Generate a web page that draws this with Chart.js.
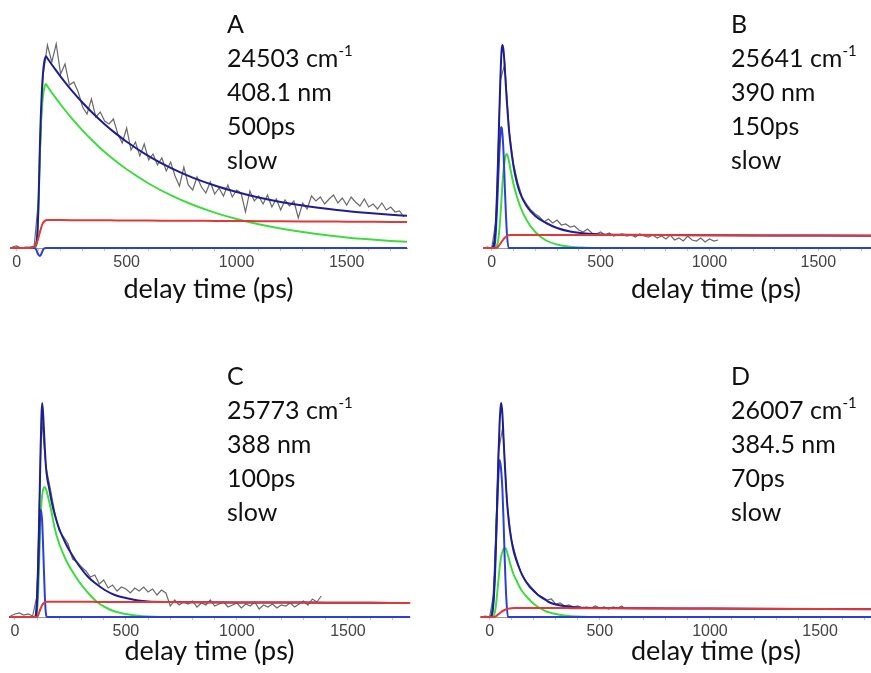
<!DOCTYPE html>
<html>
<head>
<meta charset="utf-8">
<script src="https://cdn.jsdelivr.net/npm/chart.js@4.4.0/dist/chart.umd.min.js"></script>
<style>
  html, body { margin: 0; padding: 0; background: #fff; }
  body { width: 871px; height: 673px; position: relative; overflow: hidden; }
  canvas.panel { position: absolute; }
  .note { position: absolute; font-family: Lato, "Open Sans", sans-serif; font-size: 25px; line-height: 34px; color: #111; white-space: nowrap; }
  .note sup { font-size: 15px; line-height: 0; vertical-align: 0; position: relative; top: -11px; }
</style>
</head>
<body>
<canvas id="pA" class="panel" width="435" height="310" style="left:0;top:0"></canvas>
<canvas id="pB" class="panel" width="520" height="310" style="left:435px;top:0"></canvas>
<canvas id="pC" class="panel" width="435" height="304" style="left:0;top:369px"></canvas>
<canvas id="pD" class="panel" width="520" height="304" style="left:435px;top:369px"></canvas>

<div class="note" style="left:227px;top:6px">A<br>24503 cm<sup>-1</sup><br>408.1 nm<br>500ps<br>slow</div>
<div class="note" style="left:731px;top:6px">B<br>25641 cm<sup>-1</sup><br>390 nm<br>150ps<br>slow</div>
<div class="note" style="left:227px;top:358px">C<br>25773 cm<sup>-1</sup><br>388 nm<br>100ps<br>slow</div>
<div class="note" style="left:731px;top:358px">D<br>26007 cm<sup>-1</sup><br>384.5 nm<br>70ps<br>slow</div>

<script>
// ---- axis ticks (ps) ----
const tickMarks  = [0, 100, 200, 300, 400, 500, 600, 700, 800, 900, 1000, 1100, 1200, 1300, 1400, 1500, 1600, 1700, 1800, 1900, 2000];
const tickLabels = [0, 500, 1000, 1500];

// ---- A: 24503 cm-1, 408.1 nm ----
const fitTimeA = [-30, 60, 80, 90, 95, 100, 106, 110, 115, 120, 125, 133, 140, 150, 175, 200, 250, 300, 350, 400, 450, 500, 600, 700, 800, 900, 1000, 1100, 1200, 1300, 1400, 1500, 1600, 1700, 1774];
const totalA = [0, 0, 1, 5, 17, 49, 103, 132, 158, 175, 185, 191.8, 189.7, 186.5, 178.8, 171.4, 157.6, 145.2, 134, 123.8, 114.6, 106.3, 91.9, 80.1, 70.4, 62.5, 56, 50.5, 46.1, 42.5, 39.5, 36.9, 34.9, 33.2, 32.2];
const greenA = [0, 0, 0, 3, 15, 45, 95, 120, 140, 152, 159, 164, 161.7, 158.5, 150.8, 143.5, 129.8, 117.4, 106.3, 96.1, 87, 78.7, 64.5, 52.8, 43.2, 35.4, 29, 23.7, 19.4, 15.9, 13, 10.6, 8.7, 7.1, 6.2];
const redA   = [0, 0, 1, 4, 7, 11, 16, 19, 22.5, 25, 26.5, 27.8, 28, 28, 28, 27.9, 27.8, 27.8, 27.7, 27.7, 27.6, 27.6, 27.4, 27.3, 27.2, 27.1, 27, 26.8, 26.7, 26.6, 26.5, 26.3, 26.2, 26.1, 26];
const blueA  = [0, 0, 0, -2, -5, -7, -8, -7, -4.5, -2, -0.5, 0, 0, 0, 0, 0, 0, 0, 0, 0, 0, 0, 0, 0, 0, 0, 0, 0, 0, 0, 0, 0, 0, 0, 0];
const dataTimeA = [-20, 0, 20, 40, 60, 80, 100, 120, 140, 160, 180, 200, 220, 240, 260, 280, 300, 320, 340, 360, 380, 400, 420, 440, 460, 480, 500, 520, 540, 560, 580, 600, 620, 640, 660, 680, 700, 720, 740, 760, 780, 800, 820, 840, 860, 880, 900, 920, 940, 960, 980, 1000, 1020, 1040, 1060, 1080, 1100, 1120, 1140, 1160, 1180, 1200, 1220, 1240, 1260, 1280, 1300, 1320, 1340, 1360, 1380, 1400, 1420, 1440, 1460, 1480, 1500, 1520, 1540, 1560, 1580, 1600, 1620, 1640, 1660, 1680, 1700, 1720, 1740, 1760];
const dataA = [1, 2, 0, 1, 1, 2, 50, 172, 203, 186, 204, 174, 184, 163, 166, 156, 141, 134, 149, 131, 136, 127, 124, 129, 114, 105, 120, 98, 106, 92, 104, 88, 94, 83, 90, 77, 86, 72, 62, 81, 63, 58, 71, 61, 55, 66, 54, 60, 52, 63, 51, 58, 55, 36, 57, 47, 52, 44, 53, 41, 49, 38, 48, 42, 47, 30, 45, 39, 52, 47, 51, 44, 49, 53, 45, 50, 43, 51, 46, 42, 49, 41, 44, 39, 45, 38, 41, 36, 37, 31];

// ---- B: 25641 cm-1, 390 nm ----
const fitTimeB = [-40, 0, 10, 15, 20, 25, 30, 35, 40, 43, 46, 50, 55, 60, 65, 70, 77, 85, 100, 115, 130, 160, 200, 250, 300, 360, 430, 500, 600, 800, 1000, 1400, 1800, 2100];
const totalB = [0, 0, 4, 12, 30, 58, 95, 135, 170, 188, 199, 203, 196, 180, 162, 145, 124, 106, 82, 66, 55, 42, 32, 25, 20, 16.5, 14.5, 13.6, 13.3, 13, 12.8, 12.5, 12.2, 12];
const greenB = [0, 0, 0, 0, 1, 3, 8, 18, 32, 42, 53, 66, 79, 88, 93, 94, 89, 80, 64, 52, 42, 28, 16, 7.5, 3.5, 1.2, 0.3, 0, 0, 0, 0, 0, 0, 0];
const redB   = [0, 0, 0, 0, 0, 0.5, 1.5, 3, 4.5, 5.5, 6.5, 7.5, 9, 10.2, 11.2, 12, 12.7, 13, 13.1, 13.1, 13.1, 13.1, 13.1, 13.1, 13.1, 13.1, 13, 13, 13, 12.9, 12.8, 12.5, 12.2, 12];
const blueB  = [0, 0, 0, 5, 20, 42, 70, 95, 114, 121, 120, 112, 92, 62, 35, 14, 0, 0, 0, 0, 0, 0, 0, 0, 0, 0, 0, 0, 0, 0, 0, 0, 0, 0];
const dataTimeB = [-40, -20, 0, 20, 40, 60, 80, 100, 120, 140, 160, 180, 200, 220, 240, 260, 280, 300, 320, 340, 360, 380, 400, 420, 440, 460, 480, 500, 520, 540, 560, 580, 600, 620, 640, 660, 680, 700, 720, 740, 760, 780, 800, 820, 840, 860, 880, 900, 920, 940, 960, 980, 1000, 1020, 1040];
const dataB = [0, 1, 0, 28, 168, 184, 118, 84, 65, 51, 44, 38, 34, 31, 26, 29, 25, 28, 23, 24, 21, 22, 18, 16, 19, 15, 14, 16, 13, 15, 12, 13, 14, 12, 13, 11, 14, 12, 11, 13, 10, 12, 9, 13, 8, 10, 7, 12, 8, 7, 10, 6, 9, 7, 8];

// ---- C: 25773 cm-1, 388 nm ----
const fitTimeC = [-25, 60, 90, 95, 100, 105, 110, 116, 120, 123, 128, 135, 140, 145, 155, 165, 180, 200, 230, 255, 290, 330, 370, 405, 450, 500, 555, 600, 700, 800, 1000, 1300, 1600, 1780];
const totalC = [0, 0, 0, 3, 20, 55, 105, 170, 203, 214, 200, 168, 150, 140, 128, 116, 102, 88, 73, 63, 51, 40, 32.5, 27, 22, 19, 16.5, 15.5, 15, 14.8, 14.6, 14.4, 14.2, 14];
const greenC = [0, 0, 0, 0, 5, 25, 60, 100, 115, 122, 128, 130, 128, 124, 115, 105, 88, 73, 57, 47, 35, 24, 15, 10, 5.5, 3, 1.2, 0.5, 0, 0, 0, 0, 0, 0];
const redC   = [0, 0, 0, 0, 0, 2, 5, 8.5, 10.5, 12, 13.5, 14.8, 15.2, 15.3, 15.3, 15.3, 15.3, 15.3, 15.3, 15.2, 15.2, 15.2, 15.1, 15.1, 15.1, 15, 15, 15, 14.9, 14.8, 14.6, 14.4, 14.2, 14];
const blueC  = [0, 0, 0, 2, 15, 45, 80, 107, 103, 95, 65, 20, 3, 0, 0, 0, 0, 0, 0, 0, 0, 0, 0, 0, 0, 0, 0, 0, 0, 0, 0, 0, 0, 0];
const dataTimeC = [-20, 0, 20, 40, 60, 80, 100, 120, 140, 160, 180, 200, 220, 240, 260, 280, 300, 320, 340, 360, 380, 400, 420, 440, 460, 480, 500, 520, 540, 560, 580, 600, 620, 640, 660, 680, 700, 720, 740, 760, 780, 800, 820, 840, 860, 880, 900, 920, 940, 960, 980, 1000, 1020, 1040, 1060, 1080, 1100, 1120, 1140, 1160, 1180, 1200, 1220, 1240, 1260, 1280, 1300, 1320, 1340, 1360, 1380];
const dataC = [1, 3, 4, 2, 3, 1, 22, 200, 150, 128, 104, 86, 80, 73, 58, 55, 50, 46, 40, 42, 33, 37, 29, 32, 26, 30, 28, 24, 29, 26, 30, 25, 28, 22, 27, 24, 11, 17, 12, 15, 13, 16, 10, 14, 12, 17, 11, 13, 15, 10, 12, 14, 9, 13, 11, 15, 8, 12, 10, 13, 9, 12, 11, 14, 10, 13, 16, 12, 18, 15, 21];

// ---- D: 26007 cm-1, 384.5 nm ----
const fitTimeD = [-40, 0, 8, 15, 20, 25, 30, 35, 40, 45, 50, 53, 58, 63, 68, 71, 76, 83, 90, 99, 110, 121, 136, 150, 182, 196, 220, 258, 273, 300, 350, 400, 500, 700, 1000, 1500, 2100];
const totalD = [0, 0, 1, 8, 22, 45, 80, 120, 160, 192, 210, 214, 203, 180, 157, 145, 125, 105, 90, 77, 65, 57, 48, 41, 30, 27, 22, 16.5, 14.5, 12.5, 10.5, 9.6, 9, 8.8, 8.5, 8, 7.5];
const greenD = [0, 0, 0, 0, 2, 6, 14, 25, 37, 48, 57, 61, 65, 68, 69, 69, 67, 62, 56, 49, 42, 37, 30, 25, 17, 14, 10, 5.5, 4.5, 3, 1.3, 0.5, 0, 0, 0, 0, 0];
const redD   = [0, 0, 0, 0, 0, 0.5, 1, 1.8, 2.7, 3.6, 4.5, 5, 5.8, 6.5, 7, 7.4, 7.9, 8.3, 8.6, 8.8, 8.9, 8.9, 8.9, 8.9, 8.9, 8.9, 8.9, 8.9, 8.9, 8.9, 8.9, 8.8, 8.8, 8.6, 8.4, 8, 7.5];
const blueD  = [0, 0, 1, 12, 30, 55, 85, 115, 142, 157, 152, 145, 128, 98, 62, 43, 18, 0, 0, 0, 0, 0, 0, 0, 0, 0, 0, 0, 0, 0, 0, 0, 0, 0, 0, 0, 0];
const dataTimeD = [-40, -20, 0, 20, 40, 60, 80, 100, 120, 140, 160, 180, 200, 220, 240, 260, 280, 300, 320, 340, 360, 380, 400, 420, 440, 460, 480, 500, 520, 540, 560, 580, 600, 610];
const dataD = [0, 1, 0, 25, 165, 190, 112, 76, 60, 46, 37, 32, 27, 22, 20, 17, 18, 13, 14, 11, 12, 10, 11, 9, 10, 9, 11, 9, 10, 8, 10, 9, 11, 9];

// ---- drawing ----
const COLORS = { data: '#6a6a6a', total: '#1e1e92', green: '#3fdc3f', red: '#e23838', blue: '#2c3fd6' };

function pts(ts, vs) { return ts.map((t, i) => ({ x: t, y: vs[i] })); }

function fitLine(ts, vs, color, order) {
  return { data: pts(ts, vs), borderColor: color, borderWidth: 2, pointRadius: 0,
           cubicInterpolationMode: 'monotone', clip: false, order: order };
}

function panel(id, p) {
  // lower order is painted on top: red over the total fit, data underneath everything
  const datasets = [
    fitLine(p.fitTime, p.red,   COLORS.red,   1),
    fitLine(p.fitTime, p.total, COLORS.total, 2),
    fitLine(p.fitTime, p.blue,  COLORS.blue,  3),
    fitLine(p.fitTime, p.green, COLORS.green, 4),
    { data: pts(p.dataTime, p.data), borderColor: COLORS.data, borderWidth: 1.2, pointRadius: 0,
      tension: 0, clip: false, order: 5 }
  ];
  new Chart(document.getElementById(id), {
    type: 'line',
    data: { datasets },
    options: {
      responsive: false, animation: false, devicePixelRatio: 1,
      layout: { padding: p.pad },
      plugins: { legend: { display: false }, tooltip: { enabled: false } },
      scales: {
        x: {
          type: 'linear', min: p.min, max: p.max,
          afterBuildTicks: s => { s.ticks = tickMarks.filter(v => v <= p.max).map(v => ({ value: v })); },
          afterFit: s => { s.height = p.axisH; },
          ticks: {
            autoSkip: false, maxRotation: 0, padding: 2,
            callback: v => tickLabels.includes(v) ? String(v) : '',
            font: { family: '"Liberation Sans", Arial, sans-serif', size: 16 }, color: '#444'
          },
          grid: { drawOnChartArea: false, drawTicks: true, tickLength: 3, color: '#c4c4c4' },
          border: { display: true, color: '#999', width: 1 },
          title: {
            display: true, text: 'delay time (ps)', color: '#111',
            font: { family: 'Lato, "Open Sans", sans-serif', size: 27 },
            padding: { top: 0, bottom: p.titlePad }
          }
        },
        y: { display: false, min: 0, max: 220 }
      }
    }
  });
}

panel('pA', { fitTime: fitTimeA, total: totalA, green: greenA, red: redA, blue: blueA,
  dataTime: dataTimeA, data: dataA, min: -30, max: 1774,
  pad: { left: 10, right: 28, top: 28, bottom: 0 }, axisH: 62, titlePad: 5 });
panel('pB', { fitTime: fitTimeB, total: totalB, green: greenB, red: redB, blue: blueB,
  dataTime: dataTimeB, data: dataB, min: -40, max: 2100,
  pad: { left: 48, right: 6, top: 28, bottom: 0 }, axisH: 62, titlePad: 5 });
panel('pC', { fitTime: fitTimeC, total: totalC, green: greenC, red: redC, blue: blueC,
  dataTime: dataTimeC, data: dataC, min: -22, max: 1775,
  pad: { left: 10, right: 26, top: 28, bottom: 0 }, axisH: 56, titlePad: 6 });
panel('pD', { fitTime: fitTimeD, total: totalD, green: greenD, red: redD, blue: blueD,
  dataTime: dataTimeD, data: dataD, min: -30, max: 2085,
  pad: { left: 48, right: 6, top: 28, bottom: 0 }, axisH: 56, titlePad: 6 });
</script>
</body>
</html>
